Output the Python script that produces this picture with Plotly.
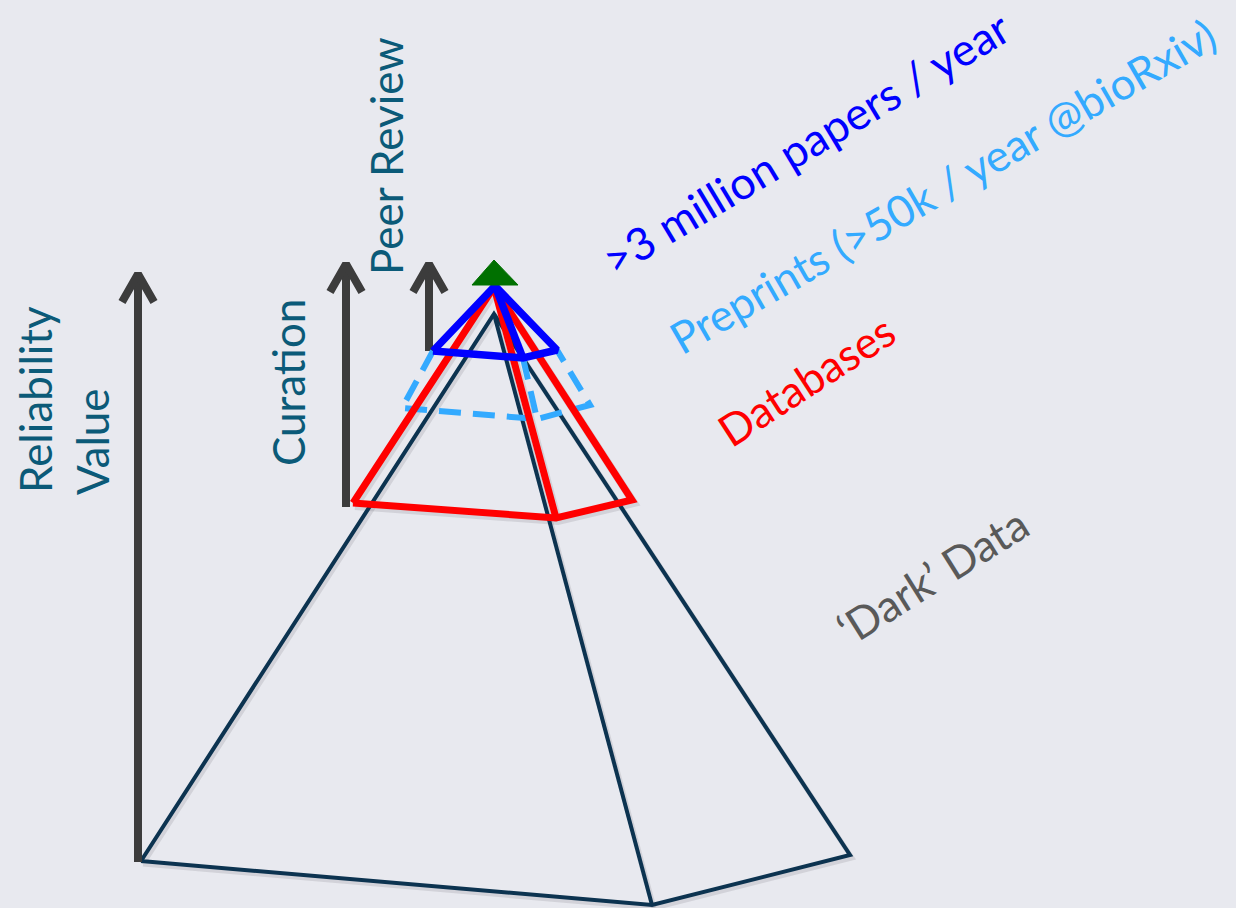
import plotly.graph_objects as go

# Canvas coordinates (pixel-like units, y grows downward)
W, H = 1236, 908

# 'Dark' data pyramid: base-left, apex, base-right, base-front
DARK_LEFT = (141, 861)
DARK_APEX = (494, 314)
DARK_RIGHT = (850, 855)
DARK_FRONT = (652, 905)

# Databases pyramid (red)
RED_LEFT = (353, 503)
RED_APEX = (494, 287)
RED_RIGHT = (632, 500)
RED_FRONT = (556, 518)

# Peer reviewed papers (blue)
BLUE_LEFT = (433, 351)
BLUE_APEX = (495, 286)
BLUE_RIGHT = (557, 350)
BLUE_FRONT = (523, 358)

# Preprints (dashed light blue) lower ring
PRE_LEFT = (402, 408)
PRE_RIGHT = (590, 405)
PRE_FRONT = (537, 419)

# Green top
TOP_X = [472, 494, 518, 472]
TOP_Y = [285, 260, 285, 285]

# Arrows: (x, y_bottom, y_tip)
ARROWS = {
    "reliability": (138, 862, 272),
    "curation": (346, 507, 262),
    "peer": (429, 351, 262),
}

LABELS_V = [
    ("Reliability", 35, 400),
    ("Value", 92, 442),
    ("Curation", 288, 383),
    ("Peer Review", 386, 156),
]

LABELS_D = [
    (">3 million papers / year", 806, 143, -31, "#0000FF", 45),
    ("Preprints (>50k / year @bioRxiv)", 942, 186, -30, "#33AAFF", 44),
    ("Databases", 806, 380, -33, "#FF0000", 44),
    ("\u2018Dark\u2019 Data", 932, 576, -32, "#595959", 44),
]

BG = "#E8E9EF"
FONT = "Lato"
SHADOW = "rgba(60,60,70,0.13)"


def pyramid_path(left, apex, right, front, dx=0, dy=0):
    pts = [left, apex, right, front, left, None, apex, front]
    xs = [p[0] + dx if p else None for p in pts]
    ys = [p[1] + dy if p else None for p in pts]
    return xs, ys


fig = go.Figure()

# soft shadows
for verts, wd in [((DARK_LEFT, DARK_APEX, DARK_RIGHT, DARK_FRONT), 4),
                  ((RED_LEFT, RED_APEX, RED_RIGHT, RED_FRONT), 7)]:
    xs, ys = pyramid_path(*verts, dx=2, dy=3)
    fig.add_trace(go.Scatter(x=xs, y=ys, mode="lines",
                             line=dict(color=SHADOW, width=wd + 1), hoverinfo="skip"))

# dark pyramid
xs, ys = pyramid_path(DARK_LEFT, DARK_APEX, DARK_RIGHT, DARK_FRONT)
fig.add_trace(go.Scatter(x=xs, y=ys, mode="lines",
                         line=dict(color="#0C3350", width=4), hoverinfo="skip"))

# arrows
for name, (ax, yb, yt) in ARROWS.items():
    fig.add_trace(go.Scatter(x=[ax, ax], y=[yb, yt + 3], mode="lines",
                             line=dict(color="#3C3C3C", width=8), hoverinfo="skip"))
    fig.add_trace(go.Scatter(x=[ax - 16, ax, ax + 16], y=[yt + 30, yt + 2, yt + 30],
                             mode="lines", line=dict(color="#3C3C3C", width=8),
                             hoverinfo="skip"))

# preprints dashed
pre_pts = [BLUE_LEFT, PRE_LEFT, PRE_FRONT, PRE_RIGHT, BLUE_RIGHT, None, BLUE_FRONT, PRE_FRONT]
fig.add_trace(go.Scatter(x=[p[0] if p else None for p in pre_pts],
                         y=[p[1] if p else None for p in pre_pts], mode="lines",
                         line=dict(color="#33AAFF", width=6, dash="22px,12px"),
                         hoverinfo="skip"))

# red pyramid
xs, ys = pyramid_path(RED_LEFT, RED_APEX, RED_RIGHT, RED_FRONT)
fig.add_trace(go.Scatter(x=xs, y=ys, mode="lines",
                         line=dict(color="#FF0000", width=7), hoverinfo="skip"))

# blue pyramid
xs, ys = pyramid_path(BLUE_LEFT, BLUE_APEX, BLUE_RIGHT, BLUE_FRONT)
fig.add_trace(go.Scatter(x=xs, y=ys, mode="lines",
                         line=dict(color="#0000FF", width=7.5), hoverinfo="skip"))

# green top
fig.add_trace(go.Scatter(x=TOP_X, y=TOP_Y, mode="lines", fill="toself",
                         fillcolor="#007000", line=dict(color="#007000", width=1),
                         hoverinfo="skip"))

for text, x, y in LABELS_V:
    fig.add_annotation(x=x, y=y, text=text, showarrow=False, textangle=-90,
                       xanchor="center", yanchor="middle",
                       font=dict(family=FONT, size=44, color="#0B5A78"))

for text, x, y, ang, col, sz in LABELS_D:
    fig.add_annotation(x=x, y=y, text=text, showarrow=False, textangle=ang,
                       xanchor="center", yanchor="middle",
                       font=dict(family=FONT, size=sz, color=col))

fig.update_layout(
    width=W, height=H, margin=dict(l=0, r=0, t=0, b=0),
    paper_bgcolor=BG, plot_bgcolor=BG, showlegend=False,
    xaxis=dict(range=[0, W], visible=False, fixedrange=True),
    yaxis=dict(range=[H, 0], visible=False, fixedrange=True),
)

fig.write_html(
    "out.html",
    config={"displayModeBar": False},
    post_script="document.body.style.margin='0';document.body.style.padding='0';"
                "document.body.style.background='#E8E9EF';"
                "document.body.style.overflow='hidden';",
)
